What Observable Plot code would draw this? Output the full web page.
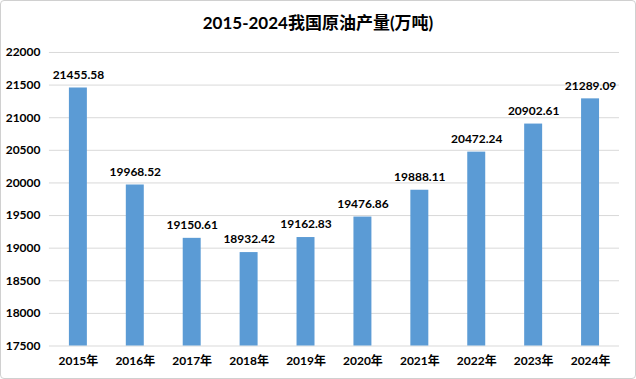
<!DOCTYPE html>
<html><head><meta charset="utf-8">
<script src="https://cdn.jsdelivr.net/npm/d3@7"></script>
<script src="https://cdn.jsdelivr.net/npm/@observablehq/plot@0.6"></script>
<style>
body{margin:0;background:#fff;}
#wrap{width:636px;height:379px;box-sizing:border-box;border:1px solid #d0d0d0;border-radius:4px;position:relative;overflow:hidden;font-family:Lato,"Noto Sans CJK SC",sans-serif;}
#title{position:absolute;left:0;top:0;width:100%;height:40px;line-height:44px;text-align:center;font-size:17px;font-weight:bold;color:#000;}
#chart{position:absolute;left:-1px;top:39px;}
</style></head>
<body><div id="wrap"><div id="title">2015-2024我国原油产量(万吨)</div><div id="chart"></div></div>
<script>
const years = ["2015年","2016年","2017年","2018年","2019年","2020年","2021年","2022年","2023年","2024年"];
const values = [21455.58,19968.52,19150.61,18932.42,19162.83,19476.86,19888.11,20472.24,20902.61,21289.09];
const yTicks = [17500,18000,18500,19000,19500,20000,20500,21000,21500,22000];
const data = years.map((y,i)=>({year:y,value:values[i]}));
const fmt = d3.format(".2f");
const plot = Plot.plot({
  width:636, height:340,
  marginTop:12, marginBottom:34, marginLeft:49, marginRight:16,
  style:{fontFamily:'Lato,"Noto Sans CJK SC",sans-serif',fontSize:"12px",fontWeight:"bold",color:"#000",background:"transparent"},
  x:{domain:years,paddingInner:0.68,paddingOuter:0.34,label:null,tickSize:0,tickPadding:10},
  y:{domain:[17500,22000],ticks:yTicks,label:null,tickSize:0,tickPadding:9,tickFormat:d=>String(d)},
  marks:[
    Plot.gridY(yTicks,{stroke:"#d9d9d9",strokeOpacity:1}),
    Plot.barY(data,{x:"year",y1:17500,y2:"value",fill:"#5B9BD5"}),
    Plot.text(data,{x:"year",y:"value",text:d=>fmt(d.value),dy:-13,fontSize:12,fontWeight:"bold",fill:"#000",style:"letter-spacing:-0.3px"})
  ]
});
document.getElementById("chart").appendChild(plot);
</script></body></html>
